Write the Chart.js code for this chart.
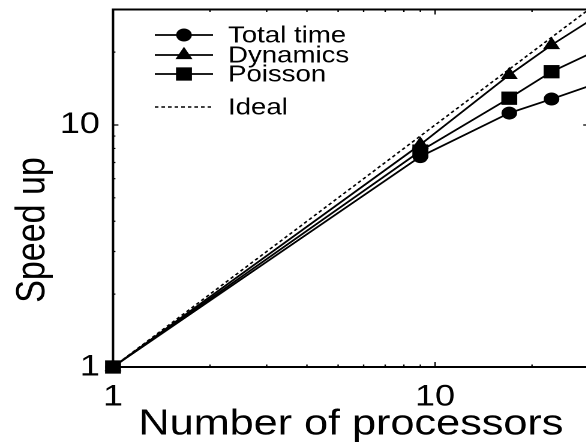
<!DOCTYPE html>
<html>
<head>
<meta charset="utf-8">
<script src="https://cdn.jsdelivr.net/npm/chart.js"></script>
<style>
  html, body { margin: 0; padding: 0; background: #fff; overflow: hidden; }
  #wrap { width: 586px; height: 448px; overflow: hidden; position: relative; }
  /* the scanned figure is stretched sideways, so the whole canvas is too */
  #speedup { transform: scaleX(1.2); transform-origin: 0 0; }
</style>
</head>
<body>
<div id="wrap"><canvas id="speedup" width="500" height="448"></canvas></div>
<script>
// data (last point lies past the cropped right edge)
const processors = [1, 9, 17, 23, 32];
const totalTime = [1, 7.4, 11.2, 12.8, 14.9];
const dynamics = [1, 8.3, 16.1, 21.4, 28.3];
const poisson = [1, 7.8, 12.9, 16.6, 20.4];
const idealProcs = [1, 30];
const idealSpeedup = [1, 30];
const tickLabels = [1, 10];
const minorTicks = [2, 3, 4, 5, 6, 7, 8, 9, 20, 30];

const FONT = '"Liberation Sans", Arial, Helvetica, sans-serif';
Chart.defaults.font.family = FONT;
Chart.defaults.color = '#000';

const toXY = (xs, ys) => xs.map((x, i) => ({ x: x, y: ys[i] }));

// box round the plot + little inward ticks on all four sides
const frame = {
  id: 'frame',
  beforeDatasetsDraw(chart) {
    const { ctx, chartArea: a, scales } = chart;
    ctx.save();
    ctx.strokeStyle = '#000';
    ctx.lineWidth = 2;
    ctx.strokeRect(a.left, a.top, a.right - a.left, a.bottom - a.top);
    ctx.lineWidth = 1.2;
    const all = minorTicks.concat(tickLabels.slice(1));
    all.forEach(v => {
      const big = tickLabels.includes(v);
      const lenV = big ? 5 : 2.5;   // on horizontal sides
      const lenH = big ? 4.5 : 2;   // on vertical sides (gets stretched)
      const px = scales.x.getPixelForValue(v);
      const py = scales.y.getPixelForValue(v);
      ctx.beginPath();
      ctx.moveTo(px, a.bottom); ctx.lineTo(px, a.bottom - lenV);
      ctx.moveTo(px, a.top); ctx.lineTo(px, a.top + lenV);
      ctx.moveTo(a.left, py); ctx.lineTo(a.left + lenH, py);
      ctx.moveTo(a.right, py); ctx.lineTo(a.right - lenH, py);
      ctx.stroke();
    });
    ctx.restore();
  }
};

function marker(ctx, style, r, x, y) {
  ctx.beginPath();
  if (style === 'circle') {
    ctx.arc(x, y, r, 0, Math.PI * 2);
  } else if (style === 'triangle') {
    ctx.moveTo(x, y - r);
    ctx.lineTo(x + r * 0.866, y + r * 0.5);
    ctx.lineTo(x - r * 0.866, y + r * 0.5);
    ctx.closePath();
  } else if (style === 'rect') {
    const s = r * Math.SQRT1_2;
    ctx.rect(x - s, y - s, 2 * s, 2 * s);
  }
  ctx.fill();
}

// legend in the upper left corner of the plot
const insideLegend = {
  id: 'insideLegend',
  afterDatasetsDraw(chart) {
    const ctx = chart.ctx;
    const rowsY = [35, 55, 74, 107];
    ctx.save();
    ctx.font = '23px ' + FONT;
    ctx.textBaseline = 'middle';
    ctx.fillStyle = '#000';
    ctx.strokeStyle = '#000';
    chart.data.datasets.forEach((ds, i) => {
      const y = rowsY[i];
      ctx.lineWidth = ds.borderWidth;
      ctx.setLineDash(ds.borderDash || []);
      ctx.beginPath();
      ctx.moveTo(129, y);
      ctx.lineTo(177.5, y);
      ctx.stroke();
      ctx.setLineDash([]);
      if (ds.pointRadius > 0) marker(ctx, ds.pointStyle, ds.pointRadius, 153.3, y);
      ctx.fillText(ds.label, 190, y + 1);
    });
    ctx.restore();
  }
};

// y title sits a bit below the axis middle in the original
const yTitle = {
  id: 'yTitle',
  afterDraw(chart) {
    const ctx = chart.ctx;
    ctx.save();
    ctx.translate(36.8, 230);
    ctx.rotate(-Math.PI / 2);
    ctx.font = '34px ' + FONT;
    ctx.fillStyle = '#000';
    ctx.textAlign = 'center';
    ctx.textBaseline = 'alphabetic';
    ctx.fillText('Speed up', 0, 0);
    ctx.restore();
  }
};

const lineDs = (label, data, style, r) => ({
  label: label,
  data: toXY(processors, data),
  borderColor: '#000',
  backgroundColor: '#000',
  borderWidth: 1.7,
  pointStyle: style,
  pointRadius: r,
  pointBorderWidth: 0,
  pointBackgroundColor: '#000',
  clip: false
});

new Chart(document.getElementById('speedup'), {
  type: 'line',
  data: {
    datasets: [
      lineDs('Total time', totalTime, 'circle', 6.5),
      lineDs('Dynamics', dynamics, 'triangle', 8.2),
      lineDs('Poisson', poisson, 'rect', 9.4),
      {
        label: 'Ideal',
        data: toXY(idealProcs, idealSpeedup),
        borderColor: '#000',
        borderWidth: 1.5,
        borderDash: [3, 2.5],
        pointRadius: 0,
        clip: false
      }
    ]
  },
  options: {
    responsive: false,
    animation: false,
    devicePixelRatio: 2,
    layout: { padding: { left: 0, top: 9.5, right: 6.9, bottom: 0 } },
    plugins: { legend: { display: false }, tooltip: { enabled: false } },
    scales: {
      x: {
        type: 'logarithmic',
        min: 1,
        max: 30,
        grid: { display: false },
        border: { display: false },
        afterFit: s => { s.height = 81; s.paddingLeft = 0; s.paddingRight = 0; },
        ticks: {
          autoSkip: false,
          maxRotation: 0,
          padding: 4,
          font: { size: 30 },
          callback: v => tickLabels.includes(v) ? String(v) : ''
        },
        title: {
          display: true,
          text: 'Number of processors',
          font: { size: 36 },
          padding: { top: 0, bottom: 2 }
        }
      },
      y: {
        type: 'logarithmic',
        min: 1,
        max: 30,
        grid: { display: false },
        border: { display: false },
        afterFit: s => { s.width = 94.2; s.paddingTop = 0; s.paddingBottom = 0; },
        ticks: {
          autoSkip: false,
          padding: 3,
          font: { size: 30 },
          callback: v => tickLabels.includes(v) ? String(v) : ''
        }
      }
    }
  },
  plugins: [frame, insideLegend, yTitle]
});
</script>
</body>
</html>
